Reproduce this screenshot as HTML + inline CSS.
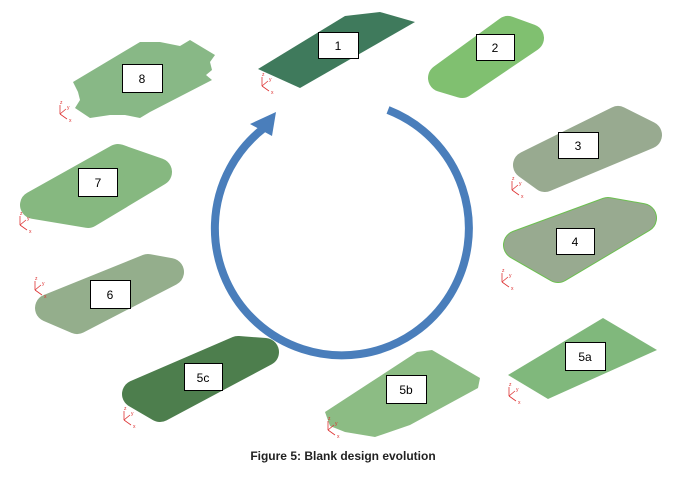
<!DOCTYPE html>
<html><head><style>
body{margin:0;background:#fff;width:686px;height:480px;overflow:hidden}
svg{display:block}
.l{fill:#fff;stroke:#000;stroke-width:1}
.t{font-family:"Liberation Sans",sans-serif;font-size:12px;fill:#000;text-anchor:middle}
.r{stroke-linejoin:round;stroke-width:28}
</style></head><body>
<svg width="686" height="480" viewBox="0 0 686 480">
<defs>
<g id="ax" stroke="#d33" stroke-width="0.8" fill="none">
<line x1="0" y1="0" x2="0" y2="-9"/><line x1="0" y1="0" x2="7" y2="5"/><line x1="0" y1="0" x2="6" y2="-5"/>
<text x="0" y="-10" font-size="5" fill="#d33" stroke="none" font-family="Liberation Sans">z</text>
<text x="7" y="-5" font-size="5" fill="#d33" stroke="none" font-family="Liberation Sans">y</text>
<text x="9" y="8" font-size="5" fill="#d33" stroke="none" font-family="Liberation Sans">x</text>
</g>
</defs>
<!-- 1 -->
<polygon points="258,69 345,16 380,12 415,22 300,88" fill="#3f7a5c"/>
<use href="#ax" x="262" y="86"/>
<!-- 2 -->
<polygon class="r" points="442,78 508,30 530,38 462,84" fill="#80c070" stroke="#80c070"/>
<!-- 3 -->
<polygon class="r" points="527,165 618,120 648,135 545,178" fill="#98aa90" stroke="#98aa90"/>
<use href="#ax" x="512" y="190"/>
<!-- 4 -->
<polygon points="518,245 608,212 642,218 558,268" fill="#98aa90" stroke="#6cc050" stroke-width="30" stroke-linejoin="round"/>
<polygon class="r" points="518,245 608,212 642,218 558,268" fill="#98aa90" stroke="#98aa90"/>
<use href="#ax" x="502" y="282"/>
<!-- 5a -->
<polygon points="508,375 603,318 657,350 548,399" fill="#80b87c"/>
<use href="#ax" x="509" y="396"/>
<!-- 5b -->
<polygon points="325,412 417,352 432,350 480,378 478,388 410,425 375,437 345,432 330,426" fill="#8cbc84"/>
<use href="#ax" x="328" y="430"/>
<!-- 5c -->
<polygon class="r" points="136,394 238,350 265,352 160,408" fill="#4d7e4d" stroke="#4d7e4d"/>
<use href="#ax" x="124" y="420"/>
<!-- 6 -->
<polygon class="r" points="49,308 148,268 170,272 77,320" fill="#94ae8c" stroke="#94ae8c"/>
<use href="#ax" x="35" y="290"/>
<!-- 7 -->
<polygon class="r" points="34,205 118,158 158,172 88,214" fill="#86b880" stroke="#86b880"/>
<use href="#ax" x="20" y="225"/>
<!-- 8 -->
<polygon points="73,82 140,42 160,42 180,46 190,40 215,55 210,62 212,70 206,75 212,80 150,112 140,118 125,115 110,115 90,118 75,108 80,100 78,92" fill="#88b886"/>
<use href="#ax" x="60" y="114"/>
<!-- circle -->
<path d="M388,110 A127,127 0 1 1 264,128" fill="none" stroke="#4a7ebb" stroke-width="8"/>
<polygon points="276,112 250,124 272,136" fill="#4a7ebb"/>
<!-- labels -->
<rect class="l" x="318.5" y="32.5" width="40" height="26"/><text class="t" x="338" y="50">1</text>
<rect class="l" x="476.5" y="34.5" width="38" height="26"/><text class="t" x="495" y="52">2</text>
<rect class="l" x="558.5" y="132.5" width="40" height="26"/><text class="t" x="578" y="150">3</text>
<rect class="l" x="556.5" y="228.5" width="38" height="26"/><text class="t" x="575" y="246">4</text>
<rect class="l" x="565.5" y="342.5" width="40" height="28"/><text class="t" x="585" y="361">5a</text>
<rect class="l" x="386.5" y="375.5" width="40" height="28"/><text class="t" x="406" y="394">5b</text>
<rect class="l" x="184.5" y="363.5" width="38" height="27"/><text class="t" x="203" y="382">5c</text>
<rect class="l" x="90.5" y="280.5" width="40" height="28"/><text class="t" x="110" y="299">6</text>
<rect class="l" x="78.5" y="168.5" width="39" height="28"/><text class="t" x="98" y="187">7</text>
<rect class="l" x="122.5" y="64.5" width="40" height="28"/><text class="t" x="142" y="83">8</text>
<text x="343" y="460" font-family="Liberation Sans,sans-serif" font-size="12" font-weight="bold" text-anchor="middle" fill="#222">Figure 5: Blank design evolution</text>
</svg>
</body></html>
